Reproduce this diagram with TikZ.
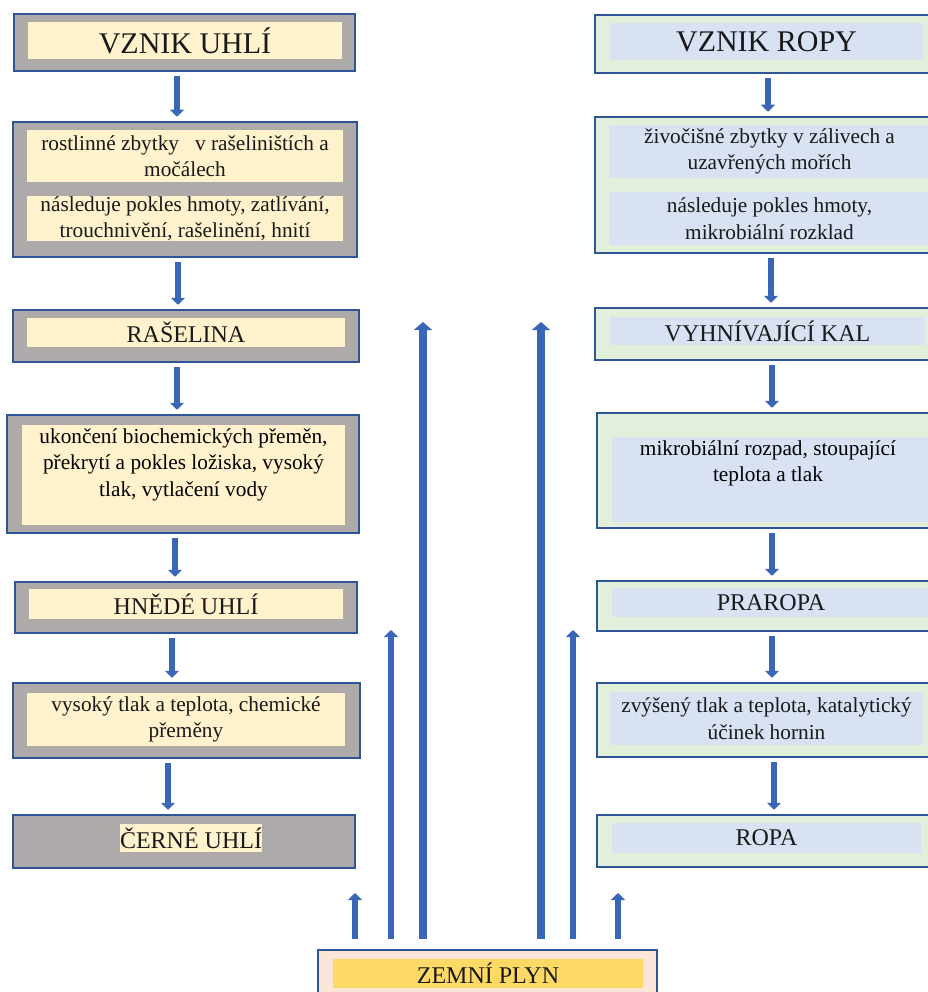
\documentclass[tikz,border=0pt]{standalone}
\usepackage{fontspec}
\setmainfont{Liberation Serif}
\usetikzlibrary{arrows.meta,positioning}
\definecolor{boxedge}{HTML}{2F5597}
\definecolor{coalgray}{HTML}{AEAAAA}
\definecolor{coalcream}{HTML}{FFF2CC}
\definecolor{oilgreen}{HTML}{E2EFDA}
\definecolor{oilblue}{HTML}{D9E2F3}
\definecolor{gaspeach}{HTML}{FBE5D6}
\definecolor{gasyellow}{HTML}{FFD966}
\definecolor{flowblue}{HTML}{3A66B8}
\tikzset{
  coalbox/.style={draw=boxedge, line width=2.5pt, fill=coalgray, inner sep=0pt},
  coalin/.style={fill=coalcream, inner sep=0pt, align=center, text=black!90},
  oilbox/.style={draw=boxedge, line width=2.5pt, fill=oilgreen, inner sep=0pt},
  oilin/.style={fill=oilblue, inner sep=0pt, align=center, text=black!90},
  gasbox/.style={draw=boxedge, line width=2.5pt, fill=gaspeach, inner sep=0pt},
  gasin/.style={fill=gasyellow, inner sep=0pt, text=black!90},
  bigcap/.style={font=\fontsize{30}{36}\selectfont},
  headline/.style={font=\fontsize{24}{29}\selectfont},
  bodytxt/.style={font=\fontsize{21.3}{26.5}\selectfont},
  flow/.style={draw=flowblue, line width=6pt, -{Triangle[width=14pt,length=7pt]},
    shorten <=4pt, shorten >=4pt},
  rise/.style={draw=flowblue, line width=6pt, -{Triangle[width=14pt,length=7pt]},
    shorten <=10pt},
  tallrise/.style={rise, line width=7.5pt, -{Triangle[width=18pt,length=8pt]}},
}
\begin{document}
\begin{tikzpicture}[x=1pt,y=-1pt]
\useasboundingbox (0,0) rectangle (927,992);

% coal column
\node[coalbox, minimum width=341pt, minimum height=57pt] (l1) at (184.5,42.5) {};
\node[coalin, bigcap, minimum width=314pt, minimum height=37pt] (l1in) at (185,40.5) {VZNIK UHLÍ};

\node[coalbox, minimum width=344pt, minimum height=135pt] (l2) at (185,189.5) {};
\node[coalin, bodytxt, minimum width=316pt, minimum height=52pt] (l2a) at (185,156)
  {rostlinné zbytky\ \ \ v rašeliništích a\\močálech};
\node[coalin, bodytxt, minimum width=316pt, minimum height=43pt] (l2b) at (185,218.5)
  {následuje pokles hmoty, zatlívání,\\trouchnivění, rašelinění, hnití};

\node[coalbox, minimum width=346pt, minimum height=52pt] (l3) at (186,336) {};
\node[coalin, headline, minimum width=318pt, minimum height=29pt] (l3in) at (186,332.5) {RAŠELINA};

\node[coalbox, minimum width=352pt, minimum height=118pt] (l4) at (183,474) {};
\node[coalin, minimum width=323pt, minimum height=100pt] (l4in) at (183.5,475) {};
\node[bodytxt, align=center, inner sep=0pt, below=3.5pt of l4in.north] (l4txt)
  {ukončení biochemických přeměn,\\překrytí a pokles ložiska, vysoký\\tlak, vytlačení vody};

\node[coalbox, minimum width=342pt, minimum height=51pt] (l5) at (186,607.5) {};
\node[coalin, headline, minimum width=314pt, minimum height=30pt] (l5in) at (186,604) {HNĚDÉ UHLÍ};

\node[coalbox, minimum width=347pt, minimum height=75pt] (l6) at (186.5,720.5) {};
\node[coalin, bodytxt, minimum width=318pt, minimum height=53pt] (l6in) at (186,719.5)
  {vysoký tlak a teplota, chemické\\přeměny};

\node[coalbox, minimum width=342pt, minimum height=53pt] (l7) at (184,841.5) {};
\node[coalin, headline, inner xsep=0.5pt, minimum height=28pt] (l7in) at (191,838) {ČERNÉ UHLÍ};

% oil column
\node[oilbox, minimum width=340pt, minimum height=58pt] (r1) at (765,44) {};
\node[oilin, bigcap, minimum width=313pt, minimum height=37pt] (r1in) at (766.5,41.5) {VZNIK ROPY};

\node[oilbox, minimum width=340pt, minimum height=136pt] (r2) at (765,185) {};
\node[oilin, bodytxt, minimum width=321pt, minimum height=53pt] (r2a) at (769.5,151.5)
  {živočišné zbytky v zálivech a\\uzavřených mořích};
\node[oilin, bodytxt, minimum width=321pt, minimum height=53pt] (r2b) at (769.5,218.5)
  {následuje pokles hmoty,\\mikrobiální rozklad};

\node[oilbox, minimum width=340pt, minimum height=52pt] (r3) at (765,334) {};
\node[oilin, headline, minimum width=315pt, minimum height=28pt] (r3in) at (767.5,331) {VYHNÍVAJÍCÍ KAL};

\node[oilbox, minimum width=338pt, minimum height=115pt] (r4) at (766,470.5) {};
\node[oilin, minimum width=316pt, minimum height=85pt] (r4in) at (770,479.5) {};
\node[bodytxt, align=center, inner sep=0pt, below=3.5pt of r4in.north, xshift=-2pt] (r4txt)
  {mikrobiální rozpad, stoupající\\teplota a tlak};

\node[oilbox, minimum width=338pt, minimum height=50pt] (r5) at (766,606) {};
\node[oilin, headline, minimum width=318pt, minimum height=29pt] (r5in) at (771,602.5) {PRAROPA};

\node[oilbox, minimum width=338pt, minimum height=74pt] (r6) at (766,720) {};
\node[oilin, bodytxt, minimum width=313pt, minimum height=53pt] (r6in) at (766.5,718.5)
  {zvýšený tlak a teplota, katalytický\\účinek hornin};

\node[oilbox, minimum width=338pt, minimum height=52pt] (r7) at (766,841) {};
\node[oilin, headline, minimum width=309pt, minimum height=30pt] (r7in) at (766.5,838) {ROPA};

% gas
\node[gasbox, minimum width=339pt, minimum height=50pt] (zp) at (487.5,975) {};
\node[gasin, headline, minimum width=310pt, minimum height=29pt] (zpin) at (488,973.5) {ZEMNÍ PLYN};

% down arrows
\draw[flow] ([xshift=-7.5pt]l1.south) -- ([xshift=-7.5pt]l1.south |- l2.north);
\draw[flow] ([xshift=-7pt]l2.south) -- ([xshift=-7pt]l2.south |- l3.north);
\draw[flow] ([xshift=-9pt]l3.south) -- ([xshift=-9pt]l3.south |- l4.north);
\draw[flow] ([xshift=-8pt]l4.south) -- ([xshift=-8pt]l4.south |- l5.north);
\draw[flow] ([xshift=-14pt]l5.south) -- ([xshift=-14pt]l5.south |- l6.north);
\draw[flow] ([xshift=-18.5pt]l6.south) -- ([xshift=-18.5pt]l6.south |- l7.north);

\draw[flow] ([xshift=3pt]r1.south) -- ([xshift=3pt]r1.south |- r2.north);
\draw[flow] ([xshift=6pt]r2.south) -- ([xshift=6pt]r2.south |- r3.north);
\draw[flow] ([xshift=7pt]r3.south) -- ([xshift=7pt]r3.south |- r4.north);
\draw[flow] ([xshift=6pt]r4.south) -- ([xshift=6pt]r4.south |- r5.north);
\draw[flow] ([xshift=6pt]r5.south) -- ([xshift=6pt]r5.south |- r6.north);
\draw[flow] ([xshift=8pt]r6.south) -- ([xshift=8pt]r6.south |- r7.north);

% gas rising
\coordinate (g1) at (355,893);
\coordinate (g2) at (391,630);
\coordinate (g3) at (423,322);
\coordinate (g4) at (541,322);
\coordinate (g5) at (573,630);
\coordinate (g6) at (618,893);
\draw[rise] (zp.north -| g1) -- (g1);
\draw[rise] (zp.north -| g2) -- (g2);
\draw[tallrise] (zp.north -| g3) -- (g3);
\draw[tallrise] (zp.north -| g4) -- (g4);
\draw[rise] (zp.north -| g5) -- (g5);
\draw[rise] (zp.north -| g6) -- (g6);
\end{tikzpicture}
\end{document}
